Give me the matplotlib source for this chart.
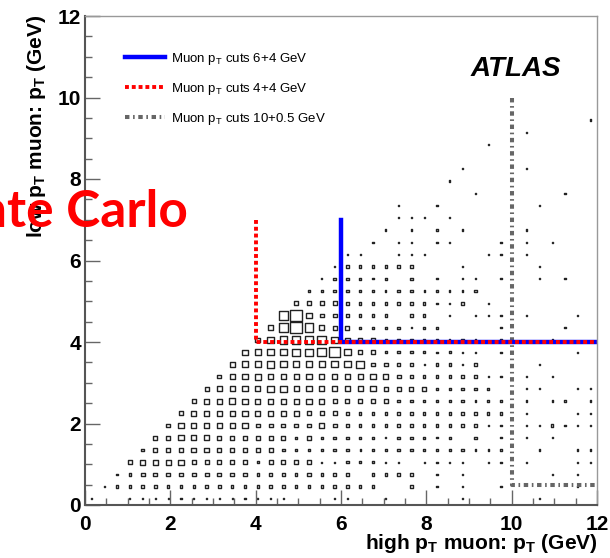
import matplotlib.pyplot as plt
from matplotlib.patches import Rectangle
from matplotlib.collections import PatchCollection

plt.rcParams['font.family'] = ['Liberation Sans', 'DejaVu Sans']
plt.rcParams['mathtext.fontset'] = 'custom'
plt.rcParams['mathtext.rm'] = 'Liberation Sans'
plt.rcParams['mathtext.bf'] = 'Liberation Sans:bold'

# 2D histogram (high pT on x, low pT on y), 0.3 GeV bins, 40 x 40
# each row string = one low-pT bin (bottom first), one char per high-pT bin
# digit = relative box size (1 = dot, 9 = biggest), '.' = empty
bin_width = 0.3
box_rows = [
    "1..1111111 111111...1 1..1.....1 .....1....",
    ".122222222 2222222222 222..2.1.1 ..1.....1.",
    "..12333333 3332222322 2.2222.1.1 ......1.1.",
    "...3444433 3332333311 22211.1111 .11.1...11",
    "....233344 3333322222 2122222222 111..1..11",
    ".....33444 3333332322 222122212. 2.1.1.1...",
    "......3444 4443333343 2222222222 211.112111",
    ".......344 4444444333 2222222222 222.1...11",
    "........34 4544444443 3333222222 121.1.11.1",
    ".........3 4444554444 4443333222 22..11..11",
    ".......... 3445444444 4444322222 211.1.1...",
    ".......... .455655555 5633221221 2....1....",
    ".......... ..45556678 5332222121 1.1.....1.",
    ".......... ...4566675 4332222212 1.1...1...",
    ".......... ....479743 32222122.. ..1....1..",
    ".......... .....79433 2222.22.1. 111.1...1.",
    ".......... ......3333 2222222112 .1........",
    ".......... .......222 2221221111 2.........",
    ".......... ........12 2212.2.1.1 1.1..1.1..",
    ".......... .........1 222222...1 .....1....",
    ".......... .......... 11..111... .11.1.....",
    ".......... .......... ..1.11.11. ..1.1.1...",
    ".......... .......... ...1.1.1.1 ....1.....",
    ".......... .......... ....111.1. ..........",
    ".......... .......... ....1..1.. .....1....",
    ".......... .......... .......... 1......1..",
    ".......... .......... ........1. ..........",
    ".......... .......... .........1 ....1.....",
    ".......... .......... .......... ..........",
    ".......... .......... .......... .1........",
    ".......... .......... .......... ....1.....",
    ".......... .......... .......... .........1",
]

# cut lines
cut64_x = [6, 6, 12]
cut64_y = [7, 4, 4]
cut44_x = [4, 4, 12]
cut44_y = [7, 4, 4]
cut105_x = [10, 10, 12]
cut105_y = [10, 0.5, 0.5]
labels = [r'Muon p$_{\mathrm{T}}$ cuts 6+4 GeV',
          r'Muon p$_{\mathrm{T}}$ cuts 4+4 GeV',
          r'Muon p$_{\mathrm{T}}$ cuts 10+0.5 GeV']

W, H = 610, 558
fig = plt.figure(figsize=(W / 100, H / 100), dpi=100)
ax = fig.add_axes([85 / W, 1 - 505 / H, 512 / W, 489 / H])
ax.set_xlim(0, 12)
ax.set_ylim(0, 12)

boxes = []
for j, row in enumerate(box_rows):
    row = row.replace(' ', '')
    for i, ch in enumerate(row):
        if ch == '.':
            continue
        s = int(ch) / 10 * bin_width
        xc = (i + 0.5) * bin_width
        yc = (j + 0.5) * bin_width
        boxes.append(Rectangle((xc - s / 2, yc - s / 2), s, s))
ax.add_collection(PatchCollection(boxes, facecolor='none', edgecolor='#222222', linewidth=1.0))

l3, = ax.plot(cut105_x, cut105_y, color='#666666', lw=2.9, dashes=(1.1, 0.9, 0.4, 0.9),
              solid_capstyle='butt', dash_capstyle='butt')
l1, = ax.plot(cut64_x, cut64_y, color='#0000ff', lw=3.2, solid_joinstyle='miter')
l2, = ax.plot(cut44_x, cut44_y, color='#ff0000', lw=2.8, dashes=(1.0, 0.75),
              dash_capstyle='butt')

ax.legend([l1, l2, l3], labels, loc='upper left', bbox_to_anchor=(125 / W, 1 - 51 / H),
          bbox_transform=fig.transFigure, frameon=False, fontsize=9.5, borderpad=0,
          borderaxespad=0, handlelength=3.0, handletextpad=0.5, labelspacing=1.05)

ax.set_xticks(range(0, 13, 2))
ax.set_yticks(range(0, 13, 2))
ax.set_xticks([x * 0.5 for x in range(25)], minor=True)
ax.set_yticks([x * 0.5 for x in range(25)], minor=True)
ax.tick_params(which='both', direction='in', color='#666666', width=1)
ax.tick_params(which='major', length=11)
ax.tick_params(which='minor', length=5)
ax.tick_params(axis='x', pad=7)
ax.tick_params(axis='y', pad=3)
for lab in ax.get_xticklabels() + ax.get_yticklabels():
    lab.set_fontweight('bold')
    lab.set_fontsize(15)

for side in ['left', 'bottom']:
    ax.spines[side].set_color('#555555')
    ax.spines[side].set_linewidth(1.5)
for side in ['top', 'right']:
    ax.spines[side].set_color('#999999')
    ax.spines[side].set_linewidth(1.0)

fig.text(598 / W, 1 - 549 / H, r'high p$_{\mathbf{T}}$ muon: p$_{\mathbf{T}}$ (GeV)',
         fontsize=15, fontweight='bold', ha='right', va='baseline')
fig.text(42 / W, 1 - 15 / H, r'low p$_{\mathbf{T}}$ muon: p$_{\mathbf{T}}$ (GeV)',
         fontsize=15, fontweight='bold', rotation=90, rotation_mode='anchor',
         ha='right', va='baseline')

fig.text(471 / W, 1 - 76 / H, 'ATLAS', fontsize=20, fontweight='bold', fontstyle='italic',
         ha='left', va='baseline')
fig.text(188 / W, 1 - 227 / H, 'Monte Carlo', fontsize=37, fontweight='bold',
         family=['Lato', 'DejaVu Sans'], color='#ff0000', ha='right', va='baseline')

fig.savefig('out.png', dpi=100)
